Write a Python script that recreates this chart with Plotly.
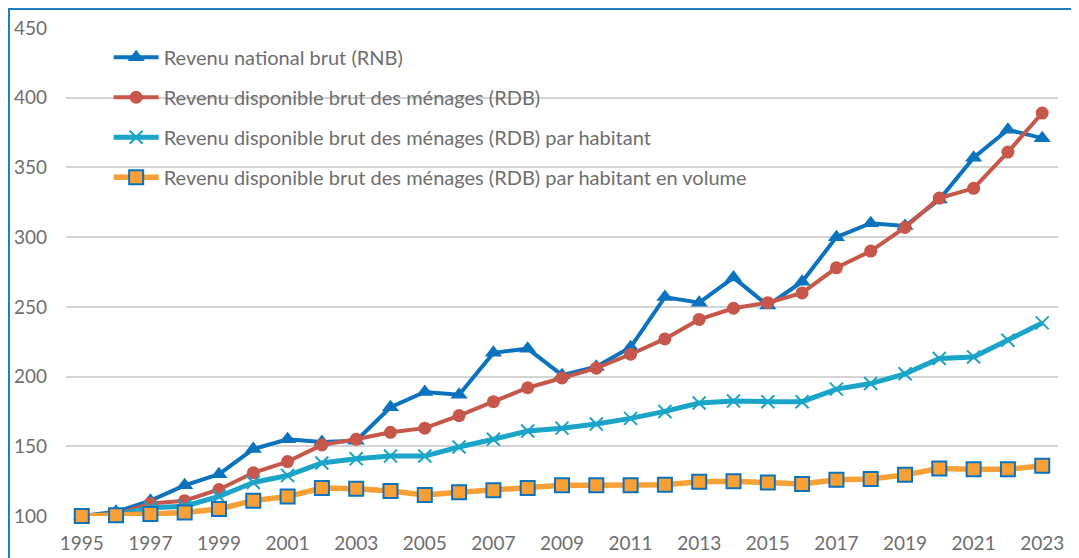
import plotly.graph_objects as go

years = list(range(1995, 2024))

rnb = [100, 103, 111, 122, 130, 148, 155, 153, 154, 178, 189, 187, 217, 220,
       201, 207, 221, 257, 253, 271, 251, 268, 300, 310, 308, 327, 357, 377, 371]
rdb = [100, 101, 109, 111, 119, 131, 139, 151, 155, 160, 163, 172, 182, 192,
       199, 206, 216, 227, 241, 249, 253, 260, 278, 290, 307, 328, 335, 361, 389]
rdb_hab = [100, 100.5, 106, 107, 114, 124, 129, 138, 141, 143, 143, 149.5, 155, 161,
           163, 166, 170, 175, 181, 182.5, 182, 182, 191, 195, 202, 213, 214, 226, 238.5]
rdb_hab_vol = [100, 100.5, 101.5, 102.5, 105, 111, 114, 120, 119.5, 118, 115, 117, 118.5, 120,
               122, 122, 122, 122.5, 124.5, 125, 124, 123, 126, 126.5, 129.5, 134, 133.5, 133.5, 136]

names = [
    "Revenu national brut (RNB)",
    "Revenu disponible brut des ménages (RDB)",
    "Revenu disponible brut des ménages (RDB) par habitant",
    "Revenu disponible brut des ménages (RDB) par habitant en volume",
]

fig = go.Figure()
fig.add_trace(go.Scatter(x=years, y=rnb, name=names[0], mode="lines+markers", legendgroup="a",
                         line=dict(color="#0B72BE", width=4),
                         marker=dict(symbol="triangle-up", size=15, color="#0B72BE"),
                         cliponaxis=False))
fig.add_trace(go.Scatter(x=years, y=rdb, name=names[1], mode="lines+markers", legendgroup="b",
                         line=dict(color="#C6574A", width=4),
                         marker=dict(symbol="circle", size=13, color="#C6574A"),
                         cliponaxis=False))
fig.add_trace(go.Scatter(x=years, y=rdb_hab, name=names[2], mode="lines+markers", legendgroup="c",
                         line=dict(color="#1AA4C8", width=5),
                         marker=dict(symbol="x-thin", size=13, color="#1AA4C8",
                                     line=dict(color="#1AA4C8", width=2)),
                         cliponaxis=False))
fig.add_trace(go.Scatter(x=years, y=rdb_hab_vol, name=names[3], mode="lines+markers", legendgroup="d",
                         line=dict(color="#F8A036", width=5.5),
                         marker=dict(symbol="square", size=14, color="#F8A036",
                                     line=dict(color="#0B72BE", width=2)),
                         cliponaxis=False))

fig.update_layout(
    width=1071, height=550,
    margin=dict(l=58, r=21, t=20, b=42),
    paper_bgcolor="white", plot_bgcolor="white",
    font=dict(family="Lato, Open Sans, sans-serif", size=19, color="#6E6E6E"),
    showlegend=True,
    legend=dict(x=0.043, y=0.98, xanchor="left", yanchor="top",
                bgcolor="rgba(0,0,0,0)", tracegroupgap=11,
                font=dict(size=20, color="#6E6E6E"), itemwidth=45),
    xaxis=dict(range=[1994.54, 2023.46], tickmode="linear", tick0=1995, dtick=2,
               showgrid=False, zeroline=False, showline=False, ticks="",
               ticklabelstandoff=14, automargin=False,
               tickfont=dict(size=19, color="#6E6E6E")),
    yaxis=dict(range=[100, 450], dtick=50, showgrid=True, gridcolor="#D4D4D4", gridwidth=2,
               zeroline=False, showline=False, ticks="", ticklabelstandoff=18, automargin=False,
               tickfont=dict(size=19, color="#6E6E6E")),
    shapes=[
        dict(type="line", xref="paper", yref="paper", x0=-0.06, x1=1.05, y0=1.039, y1=1.039,
             line=dict(color="#1E7BC6", width=2)),
        dict(type="line", xref="paper", yref="paper", x0=-0.0575, x1=-0.0575, y0=-0.2, y1=1.039,
             line=dict(color="#1E7BC6", width=2)),
    ],
)

fig.write_html("out.html")
